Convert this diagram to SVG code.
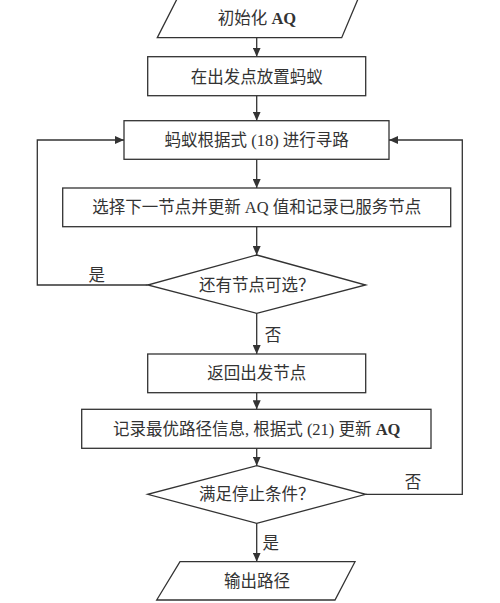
<svg xmlns="http://www.w3.org/2000/svg" width="500" height="603" viewBox="0 0 500 603">
<style>
.s{fill:#fff;stroke:#333;stroke-width:1.3}
.t{font-family:'Liberation Serif','Noto Sans CJK SC',serif;font-size:16.5px;fill:#333;text-anchor:middle}
.b{font-weight:bold}
.c{fill:none;stroke:#333;stroke-width:1.3}
</style>
<defs>
<marker id="ah" markerWidth="10" markerHeight="8" refX="9" refY="4" orient="auto" markerUnits="userSpaceOnUse">
<path d="M0,0 L9,4 L0,8 Z" fill="#333"/>
</marker>
</defs>
<rect width="500" height="603" fill="#fff"/>
<g id="connectors">
<line class="c" x1="256.7" y1="38" x2="256.7" y2="56.7" marker-end="url(#ah)"/>
<line class="c" x1="256.7" y1="95.7" x2="256.7" y2="120.7" marker-end="url(#ah)"/>
<line class="c" x1="256.7" y1="159.3" x2="256.7" y2="188" marker-end="url(#ah)"/>
<line class="c" x1="256.7" y1="226.7" x2="256.7" y2="255" marker-end="url(#ah)"/>
<line class="c" x1="256.7" y1="313.3" x2="256.7" y2="354" marker-end="url(#ah)"/>
<line class="c" x1="256.7" y1="392.7" x2="256.7" y2="409.3" marker-end="url(#ah)"/>
<line class="c" x1="256.7" y1="448.3" x2="256.7" y2="465.7" marker-end="url(#ah)"/>
<line class="c" x1="256.7" y1="523.3" x2="256.7" y2="561.7" marker-end="url(#ah)"/>
<polyline class="c" points="147.7,285 37.3,285 37.3,140 124,140" marker-end="url(#ah)"/>
<polyline class="c" points="365.7,494.3 462.3,494.3 462.3,140 389,140" marker-end="url(#ah)"/>
<text class="t" x="96.7" y="281">是</text>
<text class="t" x="273" y="341">否</text>
<text class="t" x="413" y="487.5">否</text>
<text class="t" x="270.7" y="549">是</text>
</g>
<g id="n1">
<polygon class="s" points="177,-1 358,-1 341.7,37.7 157.3,37.7"/>
<text class="t" x="257" y="24">初始化 <tspan class="b">AQ</tspan></text>
</g>
<g id="n2">
<rect class="s" x="147.7" y="56.7" width="218" height="39"/>
<text class="t" x="256.7" y="82.5">在出发点放置蚂蚁</text>
</g>
<g id="n3">
<rect class="s" x="124" y="120.7" width="265" height="38.6"/>
<text class="t" x="256.7" y="146">蚂蚁根据式 (18) 进行寻路</text>
</g>
<g id="n4">
<rect class="s" x="62.7" y="188" width="388" height="38.7"/>
<text class="t" x="256.7" y="213">选择下一节点并更新 AQ 值和记录已服务节点</text>
</g>
<g id="n5">
<polygon class="s" points="256.7,255 365.7,285 256.7,313.3 147.7,285"/>
<text class="t" x="256.7" y="291">还有节点可选？</text>
</g>
<g id="n6">
<rect class="s" x="147.7" y="354" width="218" height="38.7"/>
<text class="t" x="256.7" y="379">返回出发节点</text>
</g>
<g id="n7">
<rect class="s" x="81.7" y="409.3" width="349.3" height="39"/>
<text class="t" x="256.7" y="435">记录最优路径信息, 根据式 (21) 更新 <tspan class="b">AQ</tspan></text>
</g>
<g id="n8">
<polygon class="s" points="256.7,465.7 365.7,494.3 256.7,523.3 147.7,494.3"/>
<text class="t" x="256.7" y="500">满足停止条件？</text>
</g>
<g id="n9">
<polygon class="s" points="180,561.7 355,561.7 335,600 156.7,600"/>
<text class="t" x="257" y="587">输出路径</text>
</g>
</svg>
